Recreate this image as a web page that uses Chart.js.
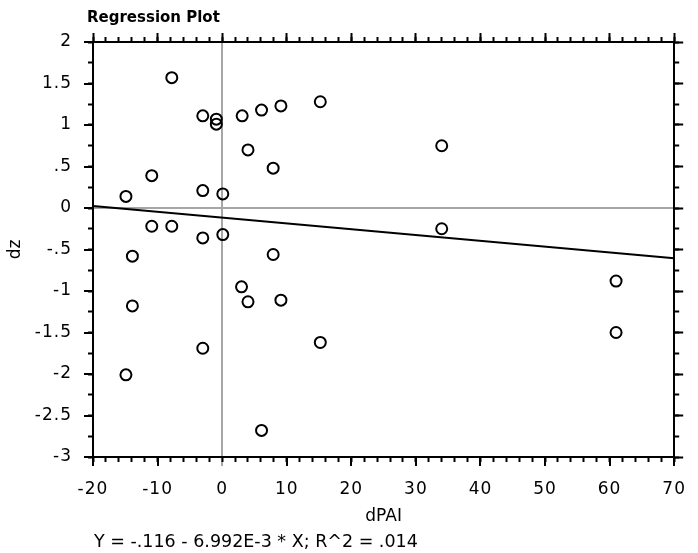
<!DOCTYPE html>
<html><head><meta charset="utf-8">
<script src="https://cdn.jsdelivr.net/npm/chart.js@4/dist/chart.umd.min.js"></script>
<style>html,body{margin:0;padding:0;background:#fff;}</style>
</head><body>
<canvas id="c" width="698" height="553"></canvas>
<script>
// ---- data ----
const dPAI = [-7.8, -3, -0.9, -0.9, 3.1, 6.1, 9.1, 15.2, 4, 7.9, -10.9, -14.9, -3, 0.1, -10.9, -7.8,
              -3, 0.1, -13.9, 7.9, 34, 34, 61, 61, 3, 4, 9.1, -13.9, -3, 15.2, -14.9, 6.1];
const dz   = [1.57, 1.11, 1.07, 1.01, 1.11, 1.18, 1.23, 1.28, 0.70, 0.48, 0.39, 0.14, 0.21, 0.17, -0.22, -0.22,
              -0.36, -0.32, -0.58, -0.56, 0.75, -0.25, -0.88, -1.50, -0.95, -1.13, -1.11, -1.18, -1.69, -1.62, -2.01, -2.68];
const INTERCEPT = -0.116;
const SLOPE = -6.992e-3;
const X_TICKS = [-20, -10, 0, 10, 20, 30, 40, 50, 60, 70];
const X_TICK_LABELS = ['-20', '-10', '0', '10', '20', '30', '40', '50', '60', '70'];
const Y_TICKS = [2, 1.5, 1, 0.5, 0, -0.5, -1, -1.5, -2, -2.5, -3];
const Y_TICK_LABELS = ['2', '1.5', '1', '.5', '0', '-.5', '-1', '-1.5', '-2', '-2.5', '-3'];
const TITLE = 'Regression Plot';
const X_TITLE = 'dPAI';
const Y_TITLE = 'dz';
const EQUATION = 'Y = -.116 - 6.992E-3 * X; R^2 = .014';

const X_MIN = -20, X_MAX = 70, Y_MIN = -3, Y_MAX = 2;
const X_MAJOR = 10, X_MINOR = 2, Y_MAJOR = 0.5, Y_MINOR = 0.25;

const FONT = 'DejaVu Sans';
const GRAY = '#a6a6a6';

const points = dPAI.map((x, i) => ({x: x, y: dz[i]}));
const fitLine = [X_MIN, X_MAX].map(x => ({x: x, y: INTERCEPT + SLOPE * x}));

function labelFrom(ticks, labels) {
  return v => {
    const i = ticks.findIndex(t => Math.abs(t - v) < 1e-9);
    return i >= 0 ? labels[i] : '';
  };
}

function tickScale(axis, position, weight, step, tl, size, showBorder) {
  const isX = axis === 'x';
  return {
    type: 'linear', axis: axis, position: position, weight: weight,
    min: isX ? X_MIN : Y_MIN, max: isX ? X_MAX : Y_MAX,
    ticks: {display: false, stepSize: step, autoSkip: false},
    grid: {drawOnChartArea: false, tickLength: tl, tickWidth: 2, tickColor: '#000', color: '#000'},
    border: {display: showBorder, color: '#000', width: 2},
    afterFit: s => { if (isX) s.height = size; else s.width = size; }
  };
}

const textPlugin = {
  id: 'texts',
  afterDatasetsDraw(chart) {
    // tick labels (z = 1) are drawn after the datasets, with a little letter spacing
    chart.ctx.letterSpacing = '1px';
  },
  afterDraw(chart) {
    const ctx = chart.ctx;
    ctx.letterSpacing = '0px';
    ctx.save();
    ctx.fillStyle = '#000';
    ctx.textBaseline = 'alphabetic';
    ctx.textAlign = 'left';
    ctx.font = 'bold 15px "' + FONT + '"';
    ctx.fillText(TITLE, 87, 22);
    ctx.font = '17.5px "' + FONT + '"';
    ctx.fillText(EQUATION, 94, 547);
    ctx.restore();
  }
};

new Chart(document.getElementById('c'), {
  data: {
    datasets: [
      {type: 'scatter', data: points, pointStyle: 'circle', pointRadius: 5.5, pointBorderWidth: 2,
       pointBorderColor: '#000', pointBackgroundColor: 'rgba(0,0,0,0)', showLine: false},
      {type: 'line', data: fitLine, borderColor: '#000', borderWidth: 2, pointRadius: 0, fill: false, tension: 0}
    ]
  },
  options: {
    responsive: false,
    animation: false,
    events: [],
    layout: {padding: 0},
    plugins: {legend: {display: false}, tooltip: {enabled: false}, title: {display: false}},
    scales: {
      x: {
        type: 'linear', position: 'bottom', weight: 1, min: X_MIN, max: X_MAX,
        afterBuildTicks: s => { s.ticks = X_TICKS.map(v => ({value: v})); },
        ticks: {z: 1, autoSkip: false, maxRotation: 0, padding: 13, color: '#000',
                font: {family: FONT, size: 17}, callback: labelFrom(X_TICKS, X_TICK_LABELS)},
        grid: {drawOnChartArea: true, lineWidth: 2, tickLength: 9, tickWidth: 2,
               tickColor: c => (c.tick && c.tick.value === 0) ? GRAY : '#000',
               color: c => (c.tick && c.tick.value === 0) ? GRAY : 'rgba(0,0,0,0)'},
        border: {display: true, color: '#000', width: 2},
        title: {display: true, text: X_TITLE, color: '#000', font: {family: FONT, size: 17},
                padding: {top: 0, bottom: 26}},
        afterFit: s => { s.height = 96; }
      },
      y: {
        type: 'linear', position: 'left', weight: 1, min: Y_MIN, max: Y_MAX,
        afterBuildTicks: s => { s.ticks = Y_TICKS.map(v => ({value: v})); },
        ticks: {z: 1, autoSkip: false, padding: 12, color: '#000',
                font: {family: FONT, size: 17}, callback: labelFrom(Y_TICKS, Y_TICK_LABELS)},
        grid: {drawOnChartArea: true, lineWidth: 2, tickLength: 9, tickWidth: 2, tickColor: '#000',
               color: c => (c.tick && c.tick.value === 0) ? GRAY : 'rgba(0,0,0,0)'},
        border: {display: true, color: '#000', width: 2},
        title: {display: true, text: Y_TITLE, color: '#000', font: {family: FONT, size: 17},
                padding: {top: 5, bottom: 0}},
        afterFit: s => { s.width = 93; }
      },
      xMinor: tickScale('x', 'bottom', 0, X_MINOR, 5, 0, false),
      yMinor: tickScale('y', 'left', 0, Y_MINOR, 5, 0, false),
      xTop: tickScale('x', 'top', 1, X_MAJOR, 9, 42, true),
      xTopMinor: tickScale('x', 'top', 0, X_MINOR, 5, 0, false),
      yRight: tickScale('y', 'right', 1, Y_MAJOR, 9, 12, true),
      yRightMinor: tickScale('y', 'right', 0, Y_MINOR, 5, 0, false)
    }
  },
  plugins: [textPlugin]
});
</script>
</body></html>
